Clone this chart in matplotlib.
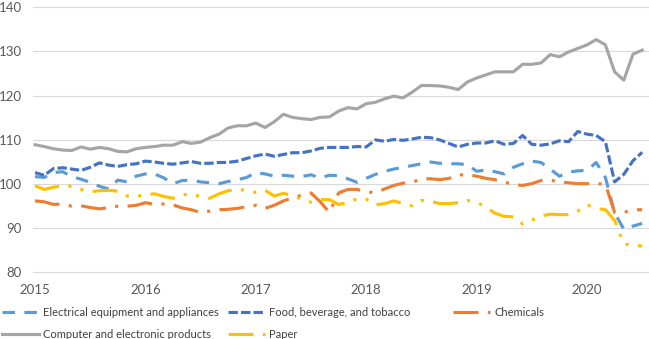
import matplotlib
matplotlib.use("Agg")
import matplotlib.pyplot as plt

plt.rcParams['font.family'] = ['Lato', 'DejaVu Sans']

# monthly index values, Jan 2015 .. Jul 2020
years = ["2015", "2016", "2017", "2018", "2019", "2020"]

electrical = [101.7, 101.5, 102.6, 102.8, 101.7, 101.1, 100.4, 99.5, 98.9, 100.9, 100.5, 101.8,
              102.3, 102.3, 101.4, 100.1, 100.8, 100.9, 100.5, 100.3, 100.1, 100.6, 101.0, 101.5,
              102.6, 102.3, 101.8, 102.0, 101.8, 101.7, 102.1, 101.4, 102.0, 101.9, 101.2, 100.4,
              101.3, 102.2, 102.9, 103.4, 103.8, 104.2, 104.6, 105.0, 104.7, 104.6, 104.6, 104.4,
              102.9, 103.2, 102.8, 102.3, 103.8, 104.6, 105.2, 104.9, 103.4, 101.8, 102.7, 103.0,
              103.1, 104.9, 101.5, 93.5, 89.8, 90.5, 91.1]

food = [102.6, 102.0, 103.5, 103.7, 103.4, 103.1, 103.8, 104.8, 104.3, 104.0, 104.4, 104.6,
        105.2, 105.0, 104.7, 104.5, 104.8, 105.1, 104.7, 104.7, 104.9, 104.9, 105.2, 105.8,
        106.4, 106.8, 106.3, 106.7, 107.1, 107.1, 107.5, 108.1, 108.3, 108.3, 108.3, 108.5,
        108.4, 110.0, 109.7, 110.1, 109.9, 110.2, 110.6, 110.5, 110.0, 109.2, 108.4, 109.0,
        109.3, 109.3, 109.8, 109.0, 109.2, 111.0, 109.0, 108.8, 109.1, 109.8, 109.6, 111.9,
        111.3, 111.0, 109.6, 100.5, 102.2, 105.3, 107.2]

chemicals = [96.2, 96.0, 95.4, 95.5, 95.0, 95.1, 94.7, 94.4, 94.7, 95.0, 95.0, 95.2,
             95.8, 95.4, 95.5, 95.3, 94.6, 94.2, 93.6, 93.9, 94.2, 94.3, 94.5, 94.9,
             95.2, 94.5, 95.2, 96.2, 96.9, 97.5, 98.0, 96.0, 93.6, 98.0, 98.8, 98.8,
             98.2, 98.1, 98.9, 99.7, 100.2, 100.4, 101.2, 101.2, 101.0, 101.3, 102.1, 102.1,
             101.8, 101.3, 101.0, 100.5, 99.9, 99.7, 100.1, 100.8, 100.9, 100.5, 100.3, 100.1,
             100.1, 100.1, 100.0, 93.6, 93.6, 94.2, 94.2]

computer = [108.9, 108.5, 108.0, 107.7, 107.6, 108.4, 107.9, 108.3, 108.0, 107.4, 107.3, 108.0,
            108.3, 108.5, 108.8, 108.8, 109.6, 109.2, 109.5, 110.5, 111.3, 112.7, 113.2, 113.2,
            113.8, 112.8, 114.1, 115.8, 115.1, 114.8, 114.6, 115.1, 115.2, 116.5, 117.3, 117.0,
            118.2, 118.5, 119.3, 119.9, 119.5, 120.8, 122.3, 122.3, 122.2, 121.9, 121.4, 123.1,
            124.0, 124.7, 125.4, 125.4, 125.4, 127.1, 127.1, 127.4, 129.3, 128.8, 129.9, 130.7,
            131.5, 132.7, 131.5, 125.4, 123.5, 129.4, 130.3]

paper = [99.6, 98.8, 99.3, 99.6, 99.5, 98.8, 98.3, 98.5, 98.6, 98.4, 97.3, 97.2,
         97.6, 97.8, 97.2, 96.8, 97.6, 97.7, 97.2, 96.8, 97.8, 98.5, 98.8, 98.6,
         98.1, 98.6, 97.3, 97.9, 97.4, 96.6, 95.9, 96.5, 96.5, 95.4, 95.8, 96.7,
         96.6, 95.3, 95.6, 96.2, 95.6, 95.1, 96.3, 96.1, 95.6, 95.6, 95.8, 96.3,
         95.9, 94.8, 93.4, 92.7, 92.6, 91.0, 91.8, 92.8, 93.2, 93.1, 93.1, 93.9,
         95.3, 94.5, 94.2, 91.8, 86.5, 86.1, 86.0]

months = list(range(len(computer)))

fig = plt.figure(figsize=(6.49, 3.39), dpi=100)
ax = fig.add_axes([33 / 649, 1 - 272.5 / 339, 616 / 649, 265.2 / 339])

lw = 2.25
l_el, = ax.plot(months, electrical, color="#5B9BD5", lw=lw, dashes=(4, 3), label="Electrical equipment and appliances")
l_fd, = ax.plot(months, food, color="#4472C4", lw=lw, dashes=(3, 1), label="Food, beverage, and tobacco")
l_ch, = ax.plot(months, chemicals, color="#ED7D31", lw=lw, dashes=(8, 3, 1, 3), label="Chemicals")
l_cp, = ax.plot(months, computer, color="#A5A5A5", lw=lw, label="Computer and electronic products")
l_pp, = ax.plot(months, paper, color="#FFC000", lw=lw, dashes=(8, 3, 1, 3, 1, 3), label="Paper")

ax.set_ylim(80, 140)
ax.set_yticks(range(80, 141, 10))
ax.set_xlim(-2 / 9.2, 614 / 9.2)
ax.set_xticks(range(0, len(months), 12))
ax.set_xticklabels(years)

ax.grid(axis="y", color="#D9D9D9", lw=0.8)
ax.set_axisbelow(True)
for s in ax.spines.values():
    s.set_visible(False)
ax.tick_params(length=0, labelsize=9.5, colors="#595959")
ax.tick_params(axis="y", pad=8)
ax.tick_params(axis="x", pad=8)

# Excel style legend: three fixed-width columns
leg_kw = dict(loc="upper left", frameon=False, fontsize=8, handlelength=3.3,
              handletextpad=0.42, labelspacing=0.95, borderpad=0, borderaxespad=0,
              labelcolor="#404040")
cols = [([l_el, l_cp], 2), ([l_fd, l_pp], 228), ([l_ch], 453)]
for handles, xpx in cols:
    leg = fig.legend(handles=handles, bbox_to_anchor=(xpx / 649, 1 - 307 / 339), **leg_kw)

fig.savefig("out.png", dpi=100)
